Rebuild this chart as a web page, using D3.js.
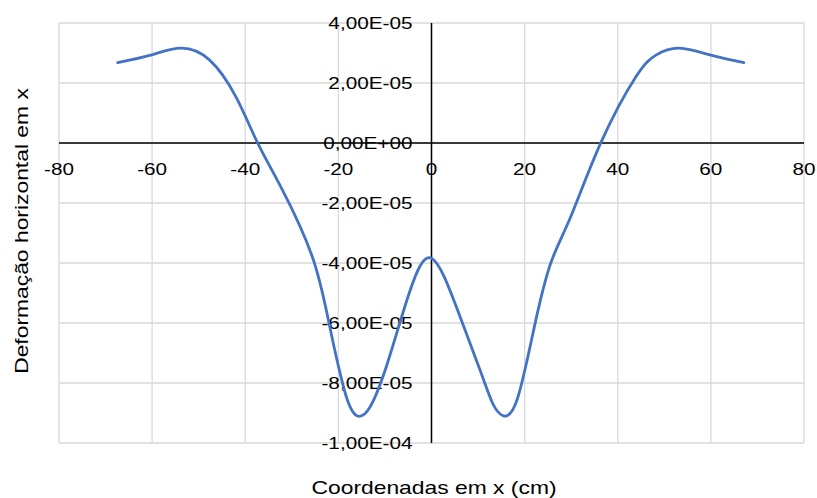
<!DOCTYPE html>
<html>
  <head>
    <meta charset="utf-8">
    <title>Deformação horizontal em x</title>
    <script src="https://d3js.org/d3.v7.min.js"></script>
    <style>
      body { margin: 0; background: #fff; }
      text { font-family: "Liberation Sans", Arial, sans-serif; fill: #000; }
    </style>
  </head>
  <body>
    <div id="vis"></div>
    <script>
        const width = 817;
        const height = 498;

        // values (x in cm, y in units of 1e-6)
        const xCoords = [-67.4, -60.3, -53.8, -47.7, -42.0, -37.4, -32.0, -25.6, -22.0, -18.5, -15.9, -13.2,
                         -9.5, -4.8, 0, 5.6, 10.5, 13.2, 15.6, 18.5, 22.1, 25.6, 29.9, 36.4,
                         43.9, 48.2, 53.2, 60.4, 67.1];
        const deformation = [26.8, 29.3, 31.6, 27.7, 15.4, 0.2, -15.7, -37.9, -60.1, -83.5, -91.0, -88.0,
                             -73.6, -50.1, -38.4, -55.7, -76.0, -87.0, -91.0, -85.0, -61.2, -40.1, -24.6, 0.2,
                             22.1, 29.3, 31.6, 29.1, 26.8];

        const xTicks = [-80, -60, -40, -20, 0, 20, 40, 60, 80];
        const yTicks = [-10, -8, -6, -4, -2, 0, 2, 4].map(v => v * 1e-5);

        const xLabel = "Coordenadas em x (cm)";
        const yLabel = "Deformação horizontal em x";

        const data = xCoords.map((x, i) => ({ x: x, y: deformation[i] * 1e-6 }));

        const x = d3.scaleLinear().domain([-80, 80]).range([59, 804]);
        const y = d3.scaleLinear().domain([-1e-4, 4e-5]).range([443, 23]);

        // excel style "4,00E-05"
        let fmt = function(v) {
          let s = d3.format(".2e")(Math.abs(v) < 1e-12 ? 0 : v).replace("\u2212", "-");
          let parts = s.split("e");
          let exp = parts[1];
          let sign = exp[0];
          let digits = exp.slice(1).padStart(2, "0");
          return parts[0].replace(".", ",") + "E" + sign + digits;
        };

        const stretch = 1.22;

        let vis = d3.select('#vis')
                    .append('svg')
                    .attr('width', width)
                    .attr('height', height);

        // grid
        vis.append("g")
           .selectAll("line")
           .data(xTicks)
           .enter()
           .append("line")
           .attr("x1", d => x(d)).attr("x2", d => x(d))
           .attr("y1", y(4e-5)).attr("y2", y(-1e-4))
           .attr("stroke", "#d9d9d9")
           .attr("stroke-width", 1.3);

        vis.append("g")
           .selectAll("line")
           .data(yTicks)
           .enter()
           .append("line")
           .attr("x1", x(-80)).attr("x2", x(80))
           .attr("y1", d => y(d)).attr("y2", d => y(d))
           .attr("stroke", "#d9d9d9")
           .attr("stroke-width", 1.3);

        // axes through zero
        vis.append("line")
           .attr("x1", x(-80)).attr("x2", x(80))
           .attr("y1", y(0)).attr("y2", y(0))
           .attr("stroke", "#000")
           .attr("stroke-width", 1.5);

        vis.append("line")
           .attr("x1", x(0)).attr("x2", x(0))
           .attr("y1", y(4e-5)).attr("y2", y(-1e-4))
           .attr("stroke", "#000")
           .attr("stroke-width", 1.5);

        // tick labels
        vis.append("g")
           .selectAll("text")
           .data(xTicks)
           .enter()
           .append("text")
           .attr("transform", d => "translate(" + x(d) + "," + (y(0) + 32) + ") scale(" + stretch + ",1)")
           .attr("text-anchor", "middle")
           .style("font-size", "17px")
           .text(d => String(d));

        vis.append("g")
           .selectAll("text")
           .data(yTicks)
           .enter()
           .append("text")
           .attr("transform", d => "translate(" + (x(0) - 19) + "," + (y(d) + 6) + ") scale(" + stretch + ",1)")
           .attr("text-anchor", "end")
           .style("font-size", "17px")
           .text(fmt);

        // the curve
        const line = d3.line()
                       .x(d => x(d.x))
                       .y(d => y(d.y))
                       .curve(d3.curveNatural);

        vis.append("path")
           .datum(data)
           .attr("d", line)
           .attr("fill", "none")
           .attr("stroke", "#4472c4")
           .attr("stroke-width", 2.8)
           .attr("stroke-linejoin", "round")
           .attr("stroke-linecap", "round");

        // axis titles
        vis.append("text")
           .attr("transform", "translate(434,494) scale(1.27,1)")
           .attr("text-anchor", "middle")
           .style("font-size", "18px")
           .text(xLabel);

        vis.append("text")
           .attr("transform", "translate(28,231) rotate(-90) scale(1.27,1)")
           .attr("text-anchor", "middle")
           .style("font-size", "18px")
           .text(yLabel);
    </script>
  </body>
</html>
